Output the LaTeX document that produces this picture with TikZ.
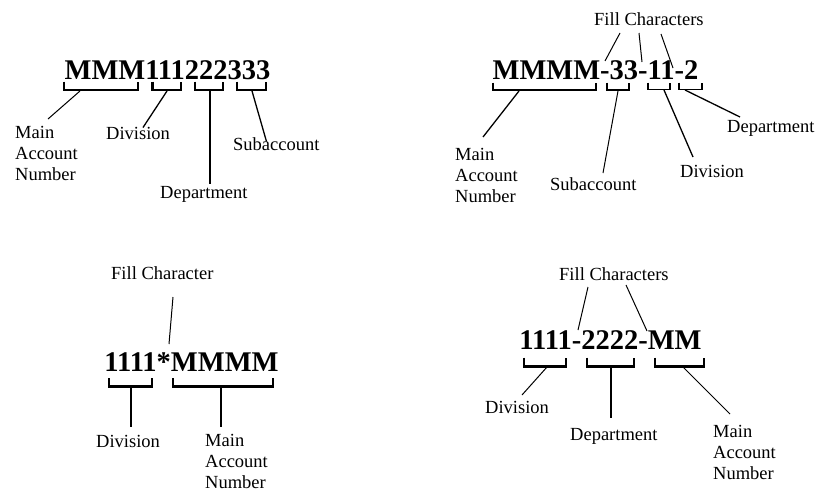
\documentclass[tikz,border=0pt]{standalone}
\usepackage{fontspec}
\setmainfont{Liberation Serif}
\tikzset{
  lbl/.style={font=\fontsize{18.5}{21}\selectfont, inner sep=0pt, anchor=north west, align=left},
  code/.style={font=\bfseries\fontsize{28.5}{30}\selectfont, inner sep=0pt, anchor=base},
  brk/.style={line width=2.3pt, line join=miter},
  brkl/.style={line width=1.8pt, line join=miter},
  lnk/.style={line width=1pt},
  lnkm/.style={line width=1.3pt},
  stem/.style={line width=2.4pt}
}
\begin{document}
\begin{tikzpicture}[x=1pt,y=-1pt]
\fill[white] (0,0) rectangle (816,493);
\useasboundingbox (0,0) rectangle (816,493);

% ---------------- Panel 1 ----------------
\node[code] (c1) at (167.5,79) {MMM111222333};
\draw[brk] (64,81.5) -- (64,90) -- (138,90) -- (138,81.5);
\draw[brk] (152.5,81.5) -- (152.5,90) -- (181,90) -- (181,81.5);
\draw[brk] (195,81.5) -- (195,90) -- (223,90) -- (223,81.5);
\draw[brk] (237,81.5) -- (237,90) -- (266,90) -- (266,81.5);
\node[lbl] (a1main) at (15,126.5) {Main\\Account\\Number};
\node[lbl] (a1div) at (106,127.5) {Division};
\node[lbl] (a1dep) at (160,186.5) {Department};
\node[lbl] (a1sub) at (233,137.5) {Subaccount};
\coordinate (a1mB) at (80,91);   \coordinate (a1mE) at (48,119);
\coordinate (a1dB) at (167,91);  \coordinate (a1dE) at (143,127.5);
\coordinate (a1pB) at (210,91);  \coordinate (a1pE) at (210,184);
\coordinate (a1sB) at (252,91);  \coordinate (a1sE) at (266.5,141.5);
\draw[lnk] (a1mB) -- (a1mE);
\draw[lnkm] (a1dB) -- (a1dE);
\draw[stem] (a1pB) -- (a1pE);
\draw[lnkm] (a1sB) -- (a1sE);

% ---------------- Panel 2 ----------------
\node[lbl] (a2fill) at (594,12.8) {Fill Characters};
\node[code] (c2) at (595.5,79) {MMMM-33-11-2};
\coordinate (a2f1B) at (620,33); \coordinate (a2f1E) at (605,61);
\coordinate (a2f2B) at (639,33); \coordinate (a2f2E) at (642,62);
\coordinate (a2f3B) at (661,34); \coordinate (a2f3E) at (673,68);
\draw[lnk] (a2f1B) -- (a2f1E);
\draw[lnk] (a2f2B) -- (a2f2E);
\draw[lnk] (a2f3B) -- (a2f3E);
\draw[brk] (493,82.5) -- (493,90) -- (596,90) -- (596,82.5);
\draw[brk] (607,82.5) -- (607,90) -- (629,90) -- (629,82.5);
\draw[brkl] (648,82.5) -- (648,89.5) -- (670,89.5) -- (670,82.5);
\draw[brkl] (679,82.5) -- (679,89.5) -- (702,89.5) -- (702,82.5);
\node[lbl] (a2main) at (455,148) {Main\\Account\\Number};
\node[lbl] (a2sub) at (550,177) {Subaccount};
\node[lbl] (a2div) at (680,165.5) {Division};
\node[lbl] (a2dep) at (727,120.5) {Department};
\coordinate (a2mB) at (519,91);  \coordinate (a2mE) at (483,137);
\coordinate (a2sB) at (618,91);  \coordinate (a2sE) at (603,173);
\coordinate (a2dB) at (664,90);  \coordinate (a2dE) at (693,157);
\coordinate (a2pB) at (685,90);  \coordinate (a2pE) at (740,117);
\draw[lnkm] (a2mB) -- (a2mE);
\draw[lnk] (a2sB) -- (a2sE);
\draw[lnkm] (a2dB) -- (a2dE);
\draw[lnkm] (a2pB) -- (a2pE);

% ---------------- Panel 3 ----------------
\node[lbl] (a3fill) at (111,266.5) {Fill Character};
\node[code] (c3) at (191.5,371) {1111*MMMM};
\coordinate (a3fB) at (173,297); \coordinate (a3fE) at (169,344);
\draw[lnk] (a3fB) -- (a3fE);
\draw[brk] (109,378) -- (109,386.5) -- (152,386.5) -- (152,378);
\draw[brk] (173,378) -- (173,386.5) -- (273,386.5) -- (273,378);
\node[lbl] (a3div) at (96,435.5) {Division};
\node[lbl] (a3main) at (205,434.5) {Main\\Account\\Number};
\coordinate (a3dB) at (131,387); \coordinate (a3dE) at (131,427);
\coordinate (a3mB) at (221,387); \coordinate (a3mE) at (221,427);
\draw[stem] (a3dB) -- (a3dE);
\draw[stem] (a3mB) -- (a3mE);

% ---------------- Panel 4 ----------------
\node[lbl] (a4fill) at (559,267) {Fill Characters};
\node[code] (c4) at (610.5,349) {1111-2222-MM};
\coordinate (a4f1B) at (588,287); \coordinate (a4f1E) at (578,330);
\coordinate (a4f2B) at (626,285); \coordinate (a4f2E) at (647,331);
\draw[lnk] (a4f1B) -- (a4f1E);
\draw[lnk] (a4f2B) -- (a4f2E);
\draw[brk] (524,357.5) -- (524,366.5) -- (566,366.5) -- (566,357.5);
\draw[brk] (587,357.5) -- (587,366.5) -- (634,366.5) -- (634,357.5);
\draw[brk] (655,357.5) -- (655,366.5) -- (704,366.5) -- (704,357.5);
\node[lbl] (a4div) at (485,401) {Division};
\node[lbl] (a4dep) at (570,428) {Department};
\node[lbl] (a4main) at (713,425.5) {Main\\Account\\Number};
\coordinate (a4dB) at (547,367); \coordinate (a4dE) at (522,395);
\coordinate (a4pB) at (611,367); \coordinate (a4pE) at (611,418);
\coordinate (a4mB) at (683,367); \coordinate (a4mE) at (730,414);
\draw[lnk] (a4dB) -- (a4dE);
\draw[stem] (a4pB) -- (a4pE);
\draw[lnk] (a4mB) -- (a4mE);
\end{tikzpicture}
\end{document}
